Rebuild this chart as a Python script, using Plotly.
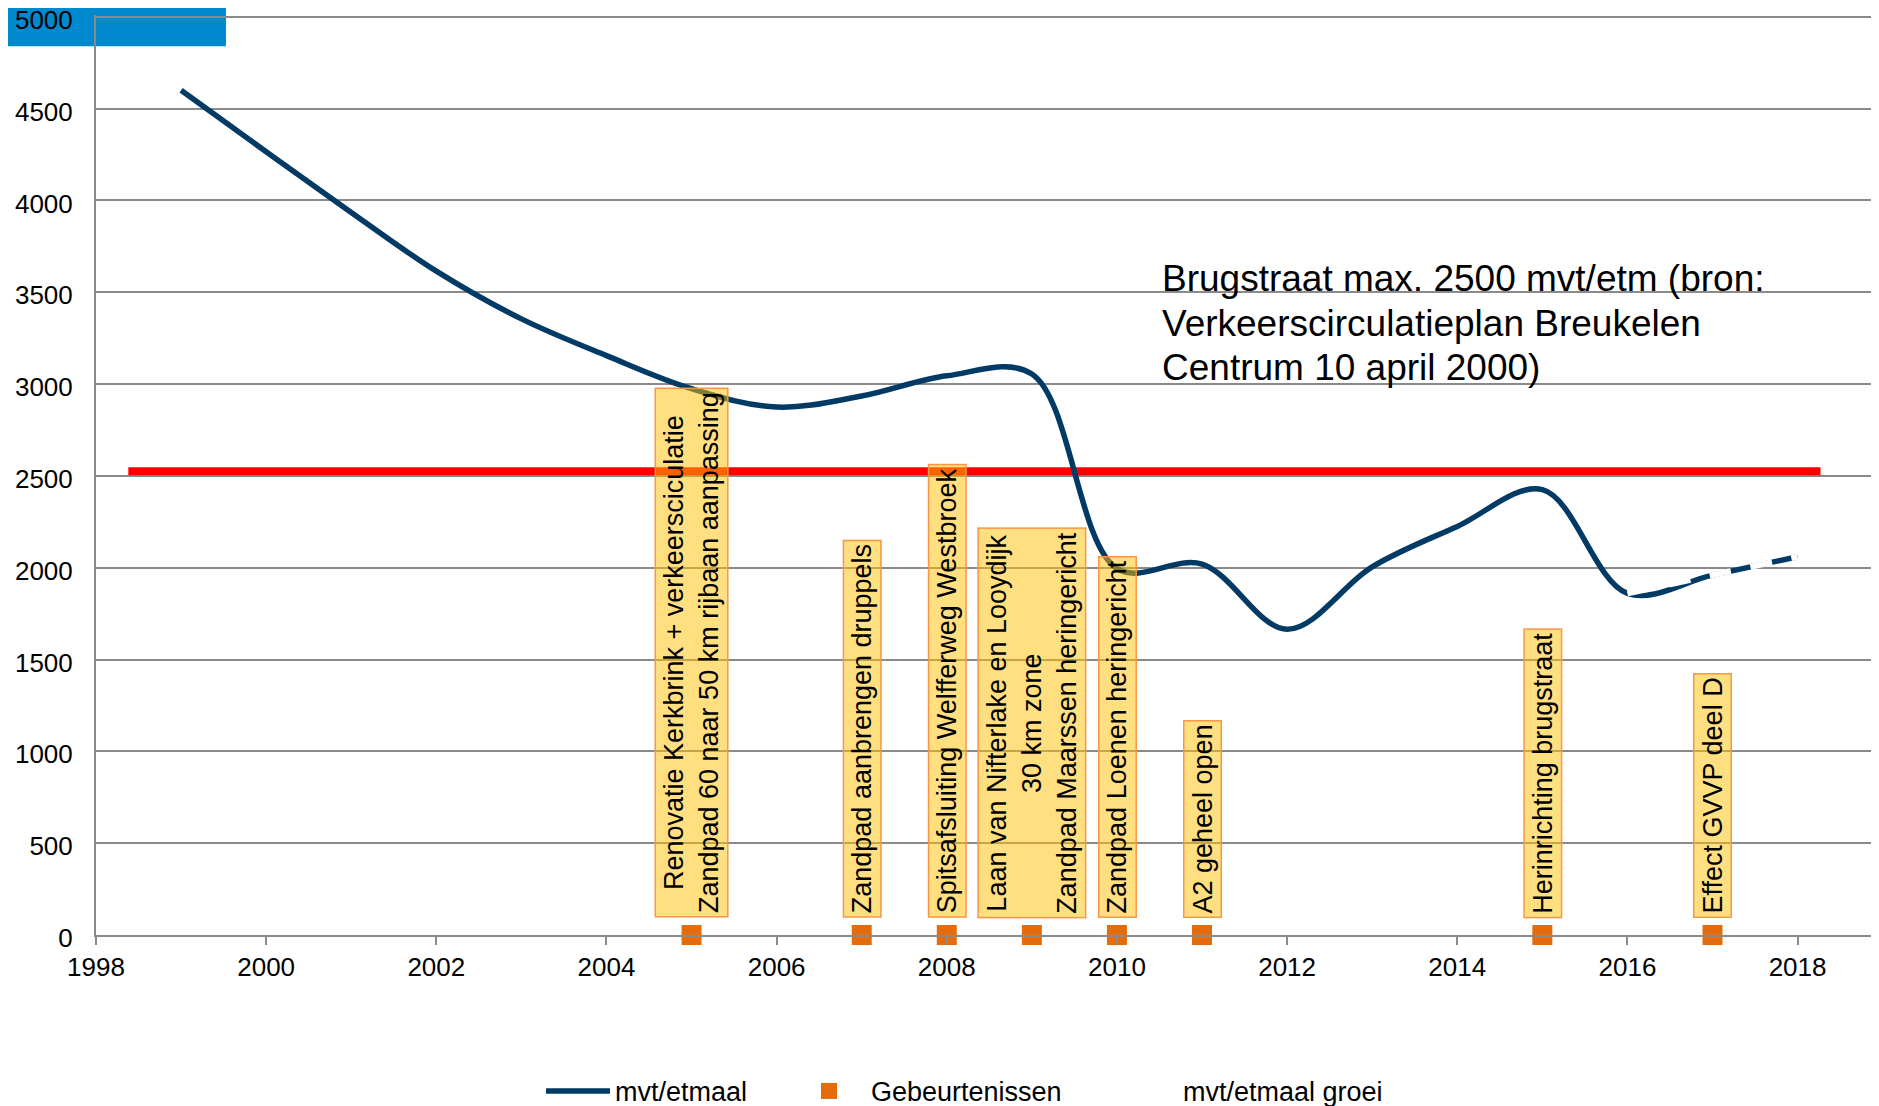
import plotly.graph_objects as go

# ---- data ----
years = list(range(1999, 2019))
mvt_etmaal = [4600, 4265, 3935, 3615, 3355, 3155, 2975, 2875, 2935, 3045,
              3055, 1995, 2020, 1665, 2005, 2225, 2425, 1860, 1960, 2060]
groei_years = [2016, 2017, 2018]
groei_values = [1860, 1960, 2060]
max_years = [1998.38, 2018.27]
max_values = [2525, 2525]
event_years = [2005, 2007, 2008, 2009, 2010, 2011, 2015, 2017]
event_values = [0, 0, 0, 0, 0, 0, 0, 0]
event_labels = [
    "Renovatie Kerkbrink + verkeersciculatie<br>Zandpad 60 naar 50 km rijbaan aanpassing",
    "Zandpad aanbrengen druppels",
    "Spitsafsluiting Welfferweg Westbroek",
    "Laan van Nifterlake en Looydijk<br>30 km zone<br>Zandpad Maarssen heringericht",
    "Zandpad Loenen heringericht",
    "A2 geheel open",
    "Herinrichting brugstraat",
    "Effect GVVP deel D",
]
x_ticks = list(range(1998, 2019, 2))
y_ticks = list(range(0, 5001, 500))
note_lines = ["Brugstraat max. 2500 mvt/etm (bron:",
              "Verkeerscirculatieplan Breukelen",
              "Centrum 10 april 2000)"]

FONT = "Liberation Sans, Arial, sans-serif"
NAVY = "#023A66"
GRID = "#8A8A8A"

fig = go.Figure()

fig.add_trace(go.Scatter(x=max_years, y=max_values, mode="lines",
                         line=dict(color="#FF0000", width=8),
                         showlegend=False, hoverinfo="skip"))

fig.add_trace(go.Scatter(x=years, y=mvt_etmaal, mode="lines", name="mvt/etmaal",
                         line=dict(color=NAVY, width=5.5, shape="spline", smoothing=1),
                         legend="legend"))

fig.add_trace(go.Scatter(x=event_years, y=event_values, mode="markers",
                         name="Gebeurtenissen",
                         marker=dict(symbol="square", size=20, color="#E46C0A"),
                         cliponaxis=False, legend="legend2"))

fig.add_trace(go.Scatter(x=groei_years, y=groei_values, mode="lines",
                         name="mvt/etmaal groei",
                         line=dict(color="#FFFFFF", width=6, dash="22px,20px",
                                   shape="spline", smoothing=1),
                         legend="legend3"))

# event labels
for xv, yv, lab in zip(event_years, event_values, event_labels):
    fig.add_annotation(x=xv, y=yv, text=lab, showarrow=False, textangle=-90,
                       xanchor="center", yanchor="bottom", yshift=17,
                       align="center",
                       font=dict(family=FONT, size=27, color="#000000"),
                       bgcolor="rgba(255,192,0,0.5)", bordercolor="#F79646",
                       borderwidth=1.5, borderpad=3)

# note text
for i, line in enumerate(note_lines):
    fig.add_annotation(x=2010.507, y=3574 - i * 242, text=line, showarrow=False,
                       xanchor="left", yanchor="middle",
                       font=dict(family=FONT, size=37, color="#000000"))

# logo block
fig.add_shape(type="rect", xref="paper", yref="paper",
              x0=-0.0499, x1=0.0729, y0=0.966, y1=1.03,
              fillcolor="#0089CE", line=dict(width=0), layer="below")

fig.update_xaxes(range=[1998, 2018.957], tickvals=x_ticks, showgrid=False,
                 showline=True, linecolor=GRID, linewidth=2,
                 ticks="outside", ticklen=8, tickwidth=2, tickcolor=GRID,
                 ticklabelstandoff=0,
                 tickfont=dict(family=FONT, size=26, color="#000000"),
                 zeroline=False)
fig.update_yaxes(range=[0, 5010], tickvals=y_ticks, showgrid=True,
                 gridcolor=GRID, gridwidth=2,
                 showline=True, linecolor=GRID, linewidth=2,
                 ticks="", ticklabelstandoff=16, ticklabelshift=3,
                 ticklabeloverflow="allow",
                 tickfont=dict(family=FONT, size=26, color="#000000"),
                 zeroline=False)

# page body has an 8px margin: figure sized/offset so the plot lands in place
leg_y = -0.170
fig.update_layout(
    width=1871, height=1098,
    margin=dict(l=88, r=0, t=7, b=171, autoexpand=False),
    paper_bgcolor="white", plot_bgcolor="white",
    font=dict(family=FONT, size=26, color="#000000"),
    legend=dict(x=(541 - 96) / 1783, y=leg_y, xanchor="left", yanchor="middle",
                orientation="h", itemwidth=64, font=dict(family=FONT, size=27),
                bgcolor="rgba(0,0,0,0)"),
    legend2=dict(x=(787 - 96) / 1783, y=leg_y, xanchor="left", yanchor="middle",
                 orientation="h", itemwidth=74, font=dict(family=FONT, size=27),
                 bgcolor="rgba(0,0,0,0)"),
    legend3=dict(x=(1143 - 96) / 1783, y=leg_y, xanchor="left", yanchor="middle",
                 orientation="h", font=dict(family=FONT, size=27),
                 bgcolor="rgba(0,0,0,0)"),
)

fig.write_html("out.html")
